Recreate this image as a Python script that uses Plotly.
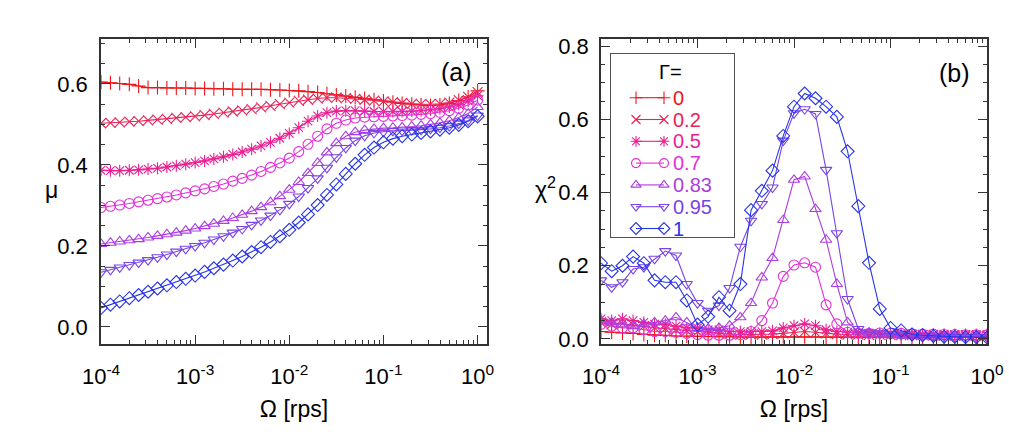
import plotly.graph_objects as go

# ---------------- data ----------------
gammas = ["0", "0.2", "0.5", "0.7", "0.83", "0.95", "1"]
colors = ["rgb(240,20,25)", "rgb(232,35,88)", "rgb(235,30,145)", "rgb(226,48,215)",
          "rgb(172,62,225)", "rgb(120,68,232)", "rgb(40,52,232)"]
symbols = ["cross-thin-open", "x-thin-open", "asterisk-open", "circle-open",
           "triangle-up-open", "triangle-down-open", "diamond-open"]

# panel (a): Omega [rps], 10 points per decade
omega_a = [1.00e-4, 1.26e-4, 1.58e-4, 2.00e-4, 2.51e-4, 3.16e-4, 3.98e-4, 5.01e-4, 6.31e-4, 7.94e-4,
           1.00e-3, 1.26e-3, 1.58e-3, 2.00e-3, 2.51e-3, 3.16e-3, 3.98e-3, 5.01e-3, 6.31e-3, 7.94e-3,
           1.00e-2, 1.26e-2, 1.58e-2, 2.00e-2, 2.51e-2, 3.16e-2, 3.98e-2, 5.01e-2, 6.31e-2, 7.94e-2,
           1.00e-1, 1.26e-1, 1.58e-1, 2.00e-1, 2.51e-1, 3.16e-1, 3.98e-1, 5.01e-1, 6.31e-1, 7.94e-1,
           1.00]

mu_g0 = [0.605, 0.603, 0.601, 0.599, 0.595, 0.591, 0.591, 0.590, 0.590, 0.590,
         0.589, 0.589, 0.588, 0.588, 0.587, 0.587, 0.587, 0.587, 0.586, 0.585,
         0.584, 0.583, 0.581, 0.579, 0.576, 0.573, 0.570, 0.567, 0.564, 0.561,
         0.558, 0.555, 0.552, 0.550, 0.548, 0.547, 0.548, 0.552, 0.559, 0.568, 0.583]
mu_g02 = [0.503, 0.504, 0.505, 0.507, 0.508, 0.510, 0.512, 0.514, 0.516, 0.518,
          0.520, 0.523, 0.526, 0.529, 0.532, 0.535, 0.538, 0.542, 0.546, 0.550,
          0.554, 0.558, 0.561, 0.564, 0.566, 0.566, 0.565, 0.563, 0.561, 0.559,
          0.557, 0.555, 0.553, 0.551, 0.550, 0.550, 0.551, 0.554, 0.560, 0.568, 0.580]
mu_g05 = [0.387, 0.386, 0.386, 0.387, 0.388, 0.390, 0.392, 0.395, 0.398, 0.402,
          0.406, 0.410, 0.415, 0.420, 0.426, 0.432, 0.439, 0.447, 0.456, 0.466,
          0.478, 0.492, 0.508, 0.521, 0.529, 0.533, 0.534, 0.534, 0.533, 0.532,
          0.532, 0.532, 0.532, 0.533, 0.534, 0.536, 0.539, 0.543, 0.549, 0.558, 0.571]
mu_g07 = [0.295, 0.298, 0.301, 0.305, 0.309, 0.313, 0.317, 0.321, 0.326, 0.331,
          0.336, 0.341, 0.347, 0.353, 0.360, 0.367, 0.375, 0.384, 0.394, 0.405,
          0.417, 0.433, 0.451, 0.471, 0.489, 0.503, 0.511, 0.516, 0.518, 0.519,
          0.520, 0.521, 0.522, 0.523, 0.525, 0.527, 0.530, 0.534, 0.540, 0.548, 0.560]
mu_g083 = [0.205, 0.208, 0.211, 0.214, 0.217, 0.221, 0.225, 0.229, 0.233, 0.238,
           0.243, 0.249, 0.255, 0.262, 0.269, 0.277, 0.286, 0.296, 0.308, 0.323,
           0.339, 0.358, 0.380, 0.405, 0.431, 0.454, 0.471, 0.481, 0.486, 0.489,
           0.491, 0.492, 0.493, 0.495, 0.497, 0.500, 0.504, 0.509, 0.517, 0.527, 0.543]
mu_g095 = [0.135, 0.141, 0.147, 0.153, 0.159, 0.165, 0.172, 0.179, 0.186, 0.193,
           0.200, 0.208, 0.216, 0.224, 0.233, 0.242, 0.252, 0.263, 0.275, 0.289,
           0.304, 0.322, 0.343, 0.367, 0.393, 0.419, 0.442, 0.460, 0.472, 0.479,
           0.482, 0.484, 0.485, 0.486, 0.487, 0.489, 0.492, 0.496, 0.502, 0.510, 0.522]
mu_g1 = [0.047, 0.055, 0.063, 0.071, 0.079, 0.087, 0.095, 0.103, 0.111, 0.119,
         0.127, 0.136, 0.145, 0.154, 0.164, 0.174, 0.185, 0.197, 0.210, 0.224,
         0.240, 0.258, 0.278, 0.301, 0.326, 0.352, 0.378, 0.403, 0.425, 0.443,
         0.456, 0.465, 0.471, 0.475, 0.479, 0.483, 0.487, 0.492, 0.499, 0.508, 0.520]

# panel (b): Omega [rps], 9 points per decade
omega_b = [1.00e-4, 1.29e-4, 1.67e-4, 2.15e-4, 2.78e-4, 3.59e-4, 4.64e-4, 5.99e-4, 7.74e-4,
           1.00e-3, 1.29e-3, 1.67e-3, 2.15e-3, 2.78e-3, 3.59e-3, 4.64e-3, 5.99e-3, 7.74e-3,
           1.00e-2, 1.29e-2, 1.67e-2, 2.15e-2, 2.78e-2, 3.59e-2, 4.64e-2, 5.99e-2, 7.74e-2,
           1.00e-1, 1.29e-1, 1.67e-1, 2.15e-1, 2.78e-1, 3.59e-1, 4.64e-1, 5.99e-1, 7.74e-1,
           1.00]

chi_g0 = [0.020, 0.018, 0.016, 0.015, 0.012, 0.010, 0.010, 0.008, 0.008,
          0.007, 0.006, 0.006, 0.006, 0.005, 0.005, 0.005, 0.006, 0.006,
          0.006, 0.006, 0.006, 0.005, 0.005, 0.005, 0.005, 0.005, 0.005,
          0.005, 0.005, 0.005, 0.005, 0.004, 0.004, 0.004, 0.004, 0.004, 0.004]
chi_g02 = [0.045, 0.040, 0.042, 0.038, 0.035, 0.030, 0.028, 0.025, 0.022,
           0.020, 0.018, 0.015, 0.013, 0.012, 0.012, 0.012, 0.013, 0.015,
           0.018, 0.020, 0.018, 0.015, 0.013, 0.012, 0.012, 0.011, 0.011,
           0.010, 0.010, 0.010, 0.010, 0.009, 0.009, 0.009, 0.009, 0.008, 0.008]
chi_g05 = [0.055, 0.050, 0.055, 0.050, 0.045, 0.040, 0.040, 0.035, 0.030,
           0.030, 0.025, 0.025, 0.020, 0.020, 0.020, 0.020, 0.022, 0.030,
           0.036, 0.041, 0.036, 0.025, 0.020, 0.018, 0.017, 0.016, 0.015,
           0.015, 0.014, 0.014, 0.013, 0.013, 0.013, 0.012, 0.012, 0.012, 0.012]
chi_g07 = [0.040, 0.035, 0.030, 0.030, 0.025, 0.020, 0.020, 0.018, 0.015,
           0.012, 0.010, 0.010, 0.010, 0.012, 0.020, 0.050, 0.098, 0.171,
           0.202, 0.208, 0.196, 0.093, 0.041, 0.018, 0.015, 0.015, 0.016,
           0.015, 0.015, 0.014, 0.013, 0.013, 0.012, 0.012, 0.011, 0.011, 0.011]
chi_g083 = [0.050, 0.045, 0.040, 0.035, 0.040, 0.045, 0.050, 0.059, 0.045,
            0.030, 0.028, 0.030, 0.036, 0.059, 0.098, 0.168, 0.221, 0.325,
            0.435, 0.444, 0.355, 0.271, 0.150, 0.045, 0.020, 0.015, 0.012,
            0.010, 0.009, 0.008, 0.007, 0.006, 0.006, 0.005, 0.005, 0.005, 0.005]
chi_g095 = [0.160, 0.141, 0.155, 0.191, 0.196, 0.219, 0.240, 0.228, 0.150,
            0.098, 0.077, 0.091, 0.139, 0.252, 0.323, 0.369, 0.414, 0.542,
            0.617, 0.628, 0.615, 0.462, 0.289, 0.109, 0.027, 0.018, 0.015,
            0.012, 0.010, 0.008, 0.007, 0.006, 0.006, 0.005, 0.005, 0.005, 0.004]
chi_g1 = [0.207, 0.185, 0.200, 0.225, 0.207, 0.160, 0.155, 0.155, 0.105,
          0.039, 0.061, 0.114, 0.077, 0.150, 0.352, 0.405, 0.460, 0.555,
          0.635, 0.671, 0.658, 0.635, 0.607, 0.513, 0.363, 0.208, 0.082,
          0.030, 0.023, 0.012, 0.010, 0.008, 0.006, 0.006, 0.005, 0.005, 0.004]

mu_series = [mu_g0, mu_g02, mu_g05, mu_g07, mu_g083, mu_g095, mu_g1]
chi_series = [chi_g0, chi_g02, chi_g05, chi_g07, chi_g083, chi_g095, chi_g1]

xtick_vals = [1e-4, 1e-3, 1e-2, 1e-1, 1e0]
xtick_text = ["10<sup>-4</sup>", "10<sup>-3</sup>", "10<sup>-2</sup>", "10<sup>-1</sup>", "10<sup>0</sup>"]
ytick_a = [0.0, 0.2, 0.4, 0.6]
ytick_b = [0.0, 0.2, 0.4, 0.6, 0.8]
xminor_vals = [m * 10.0 ** e for e in range(-4, 0) for m in range(2, 10)]

# ---------------- figure ----------------
W, H = 1009, 432
ML, MR, MT, MB = 101, 22, 39, 88
PW, PH = W - ML - MR, H - MT - MB
FONT = "Liberation Sans, Arial, sans-serif"

def px_x(p):  # pixel -> paper x
    return (p - ML) / PW

def px_y(p):  # pixel -> paper y
    return 1 - (p - MT) / PH

fig = go.Figure()

for i, g in enumerate(gammas):
    fig.add_trace(go.Scatter(
        x=omega_a, y=mu_series[i], mode="lines+markers", name=g,
        line=dict(color=colors[i], width=1.1),
        marker=dict(symbol=symbols[i], size=10, color=colors[i], line=dict(width=1.1, color=colors[i])),
        xaxis="x", yaxis="y", showlegend=False))

for i, g in enumerate(gammas):
    fig.add_trace(go.Scatter(
        x=omega_b, y=chi_series[i], mode="lines+markers", name=g,
        line=dict(color=colors[i], width=1.1),
        marker=dict(symbol=symbols[i], size=10, color=colors[i], line=dict(width=1.1, color=colors[i])),
        xaxis="x2", yaxis="y2", showlegend=False))

# hand-drawn legend (markers at both ends of the sample line, as in the original)
LX0, LX1, LY0, LY1 = 610, 735, 53, 238
row0, drow = 97.7, 21.8
for i, g in enumerate(gammas):
    ry = row0 + drow * i
    fig.add_trace(go.Scatter(
        x=[636, 664], y=[ry, ry], mode="lines+markers",
        line=dict(color=colors[i], width=1.1),
        marker=dict(symbol=symbols[i], size=9, color=colors[i], line=dict(width=1.1, color=colors[i])),
        xaxis="x3", yaxis="y3", showlegend=False, hoverinfo="skip", cliponaxis=False))

axis_common = dict(showline=True, linecolor="#333", linewidth=1.5, mirror="allticks",
                   ticks="inside", ticklen=9, tickwidth=1.2, tickcolor="#333",
                   showgrid=False, zeroline=False, automargin=False,
                   tickfont=dict(family=FONT, size=22, color="black"))

xa = dict(axis_common, type="log", tickvals=xtick_vals, ticktext=xtick_text, ticklabelstandoff=12,
          minor=dict(tickvals=xminor_vals, ticks="inside", ticklen=4, tickcolor="#333", showgrid=False),
          title=dict(text="Ω [rps]", font=dict(family=FONT, size=23, color="black"), standoff=13))
ya_minor = dict(dtick=0.05, ticks="inside", ticklen=4, tickcolor="#333", showgrid=False)

annotations = [
    dict(text="(a)", x=px_x(456), y=px_y(72), xref="paper", yref="paper", showarrow=False,
         xanchor="center", yanchor="middle", font=dict(family=FONT, size=25, color="black")),
    dict(text="(b)", x=px_x(954), y=px_y(73), xref="paper", yref="paper", showarrow=False,
         xanchor="center", yanchor="middle", font=dict(family=FONT, size=25, color="black")),
    dict(text="μ", x=px_x(51), y=px_y(190), xref="paper", yref="paper", showarrow=False,
         xanchor="center", yanchor="middle", font=dict(family=FONT, size=23, color="black")),
    dict(text="χ<sup>2</sup>", x=px_x(545), y=px_y(188), xref="paper", yref="paper", showarrow=False,
         xanchor="center", yanchor="middle", font=dict(family=FONT, size=23, color="black")),
    dict(text="Γ=", x=670, y=72, xref="x3", yref="y3", showarrow=False,
         xanchor="center", yanchor="middle", font=dict(family=FONT, size=20, color="black")),
]
for i, g in enumerate(gammas):
    annotations.append(dict(text=g, x=671, y=row0 + drow * i, xref="x3", yref="y3", showarrow=False,
                            xanchor="left", yanchor="middle",
                            font=dict(family=FONT, size=20, color=colors[i])))

fig.update_layout(
    width=W, height=H,
    margin=dict(l=ML, r=MR, t=MT, b=MB),
    paper_bgcolor="white", plot_bgcolor="white",
    font=dict(family=FONT, size=20, color="black"),
    showlegend=False,
    xaxis=dict(xa, domain=[0, px_x(487)], range=[-4, 0.1], anchor="y"),
    xaxis2=dict(xa, domain=[px_x(601), 1.0], range=[-4, 0.0], anchor="y2"),
    yaxis=dict(axis_common, domain=[0, 1], range=[-0.042, 0.711], anchor="x", ticklabelstandoff=7,
               tickvals=ytick_a, ticktext=["%.1f" % v for v in ytick_a], minor=ya_minor),
    yaxis2=dict(axis_common, domain=[0, 1], range=[-0.014, 0.82], anchor="x2", ticklabelstandoff=6,
                tickvals=ytick_b, ticktext=["%.1f" % v for v in ytick_b], minor=ya_minor),
    xaxis3=dict(domain=[px_x(LX0), px_x(LX1)], range=[LX0, LX1], visible=False, anchor="y3",
                fixedrange=True),
    yaxis3=dict(domain=[px_y(LY1), px_y(LY0)], range=[LY1, LY0], visible=False, anchor="x3",
                fixedrange=True),
    shapes=[dict(type="rect", xref="x3", yref="y3", x0=LX0, x1=LX1, y0=LY0, y1=LY1,
                 fillcolor="white", line=dict(color="#505050", width=2), layer="below")],
    annotations=annotations,
)

fig.write_html("out.html")
